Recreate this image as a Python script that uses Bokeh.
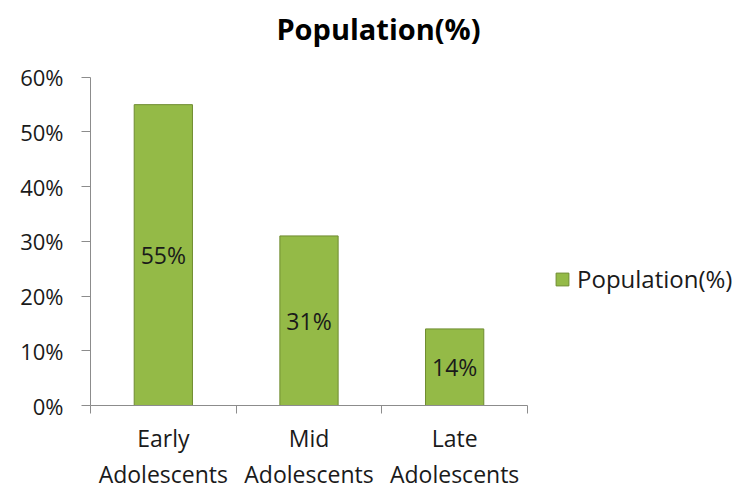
from bokeh.plotting import figure
from bokeh.models import ColumnDataSource, FixedTicker, LinearAxis, NumeralTickFormatter, Legend, LegendItem, Label, Range1d
from bokeh.core.properties import value
from bokeh.embed import file_html
from bokeh.resources import INLINE

categories = ["Early\nAdolescents", "Mid\nAdolescents", "Late\nAdolescents"]
values = [0.55, 0.31, 0.14]
value_labels = ["55%", "31%", "14%"]
y_ticks = [0, 0.1, 0.2, 0.3, 0.4, 0.5, 0.6]
series_name = "Population(%)"
title_text = "Population(%)"

FONT = "Open Sans"
n = len(categories)
xs = [i + 0.5 for i in range(n)]
line1 = [c.split("\n")[0] for c in categories]
line2 = [c.split("\n")[1] for c in categories]
src = ColumnDataSource(dict(x=xs, top=values, mid=[v / 2 for v in values], lab=value_labels))

# frame spans to the right/top edge; axes are bounded to the data area
X_END = 4.4486   # extra room to the right for the legend
Y_END = 0.7404   # extra room above for the title

p = figure(width=738, height=492, output_backend="svg", toolbar_location=None,
           x_range=Range1d(0, X_END), y_range=Range1d(0, Y_END),
           min_border_left=90, min_border_right=0, min_border_top=0, min_border_bottom=85,
           x_axis_location=None)
p.outline_line_color = None
p.xgrid.visible = False
p.ygrid.visible = False
p.background_fill_color = "white"
p.border_fill_color = "white"

r = p.vbar(x="x", top="top", width=0.40, source=src, fill_color="#94ba47",
           line_color="#6f8c30", line_width=1)
p.text(x="x", y="mid", text="lab", source=src, text_align="center", text_baseline="middle",
       text_font=value(FONT), text_font_size="23px", text_color="#1a1a1a")

# y axis
ya = p.yaxis[0]
ya.bounds = (0, 0.6)
ya.ticker = FixedTicker(ticks=y_ticks)
ya.formatter = NumeralTickFormatter(format="0%")
ya.axis_line_color = "#8c8c8c"
ya.major_tick_line_color = "#8c8c8c"
ya.major_tick_out = 9
ya.major_tick_in = 0
ya.minor_tick_line_color = None
ya.major_label_text_font = FONT
ya.major_label_text_font_size = "22px"
ya.major_label_text_color = "#1a1a1a"
ya.major_label_standoff = 18

# x axis: boundary ticks
xb = LinearAxis(ticker=FixedTicker(ticks=list(range(n + 1))), bounds=(0, n))
xb.axis_line_color = "#8c8c8c"
xb.major_tick_line_color = "#8c8c8c"
xb.major_tick_out = 8
xb.major_tick_in = 0
xb.minor_tick_line_color = None
xb.major_label_text_font_size = "0px"
xb.major_label_text_color = None
xb.major_label_standoff = 0
p.add_layout(xb, "below")

def label_axis(texts, standoff):
    ax = LinearAxis(ticker=FixedTicker(ticks=xs))
    ax.major_label_overrides = {x: t for x, t in zip(xs, texts)}
    ax.axis_line_color = None
    ax.major_tick_line_color = None
    ax.major_tick_out = 0
    ax.major_tick_in = 0
    ax.minor_tick_line_color = None
    ax.major_label_text_font = FONT
    ax.major_label_text_font_size = "23px"
    ax.major_label_text_color = "#1a1a1a"
    ax.major_label_standoff = standoff
    p.add_layout(ax, "below")

label_axis(line1, 8)
label_axis(line2, 1)

legend = Legend(items=[LegendItem(label=series_name, renderers=[r])],
                location=(464, 110), border_line_color=None, background_fill_alpha=0,
                label_text_font=FONT, label_text_font_size="24px", label_text_color="#1a1a1a",
                glyph_width=16, glyph_height=16, label_standoff=7, padding=5, margin=0)
p.add_layout(legend)

title = Label(x=1.977, y=0.689, text=title_text,
              text_font=FONT, text_font_size="29px", text_font_style="bold",
              text_align="center", text_baseline="middle", text_color="#000000")
p.add_layout(title)

open("out.html", "w").write(file_html(p, INLINE))
